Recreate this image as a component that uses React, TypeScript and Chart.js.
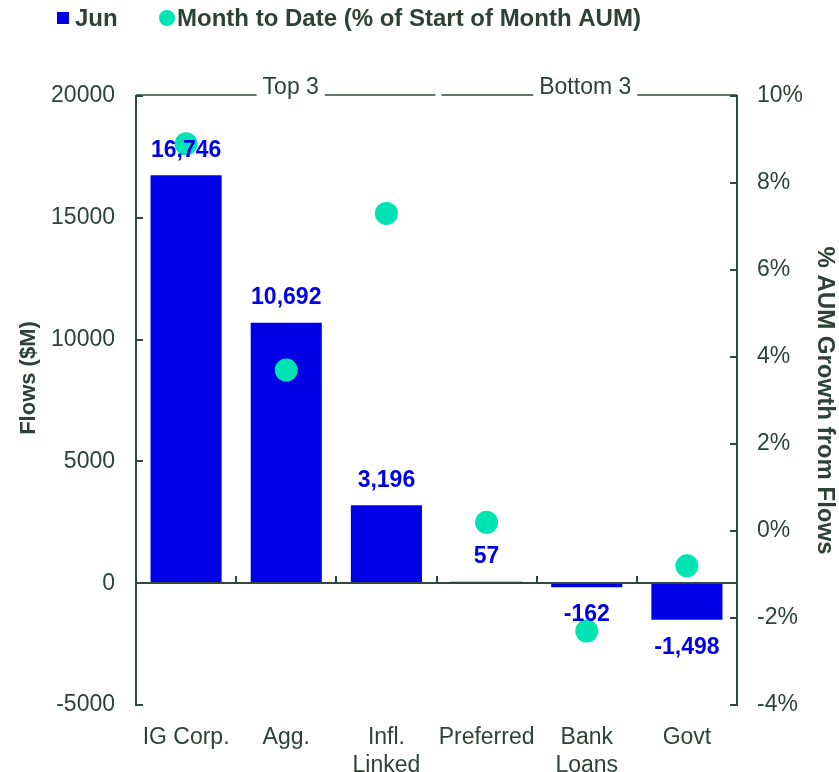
import React, { useEffect, useRef } from "react";
import { Chart, registerables } from "chart.js";

Chart.register(...registerables);

const categories: (string | string[])[] = ["IG Corp.", "Agg.", ["Infl.", "Linked"], "Preferred", ["Bank", "Loans"], "Govt"];
const flowsJun: number[] = [16746, 10692, 3196, 57, -162, -1498];
const mtdPct: number[] = [8.9, 3.7, 7.3, 0.2, -2.3, -0.8];
const groupLabels: string[] = ["Top 3", "Bottom 3"];
const legendLabels: string[] = ["Jun", "Month to Date (% of Start of Month AUM)"];
const leftTitle = "Flows ($M)";
const rightTitle = "% AUM Growth from Flows";

const FONT = "'Liberation Sans', Arial, sans-serif";
const TEXT = "#2D4236";
const AXIS = "#2F4A3A";
const BLUE = "#0000E6";
const MINT = "#00E3B2";

const decorPlugin = {
  id: "decor",
  afterDatasetsDraw(chart: any) {
    const { ctx, chartArea, scales } = chart;
    const x = scales.x;
    const y = scales.y;
    const y1 = scales.y1;
    const { left, right, top, bottom } = chartArea;
    ctx.save();
    ctx.strokeStyle = AXIS;
    ctx.lineWidth = 2;
    // zero line
    const y0 = Math.round(y.getPixelForValue(0));
    ctx.beginPath();
    ctx.moveTo(left, y0);
    ctx.lineTo(right, y0);
    ctx.stroke();
    // category boundary ticks
    for (let i = 1; i < categories.length; i++) {
      const bx = Math.round((x.getPixelForValue(i - 1) + x.getPixelForValue(i)) / 2);
      ctx.beginPath();
      ctx.moveTo(bx, y0);
      ctx.lineTo(bx, y0 - 7);
      ctx.stroke();
    }
    // inside ticks left / right
    for (let v = -5000; v <= 20000; v += 5000) {
      const py = Math.round(y.getPixelForValue(v));
      ctx.beginPath();
      ctx.moveTo(left, py);
      ctx.lineTo(left + 7, py);
      ctx.stroke();
    }
    for (let v = -4; v <= 10; v += 2) {
      const py = Math.round(y1.getPixelForValue(v));
      ctx.beginPath();
      ctx.moveTo(right, py);
      ctx.lineTo(right - 7, py);
      ctx.stroke();
    }
    // group brackets
    ctx.font = `23px ${FONT}`;
    ctx.fillStyle = TEXT;
    ctx.textAlign = "center";
    ctx.textBaseline = "alphabetic";
    const mid = (x.getPixelForValue(2) + x.getPixelForValue(3)) / 2;
    const groups = [
      [left, mid - 1, 5],
      [mid + 5, right, -4],
    ];
    const ly = top - 1;
    groups.forEach(([a, b, shift], gi) => {
      const label = groupLabels[gi];
      const w = ctx.measureText(label).width;
      const cx = (a + b) / 2 + shift;
      ctx.fillText(label, cx, ly - 1);
      ctx.lineWidth = 1.5;
      ctx.beginPath();
      ctx.moveTo(a, ly);
      ctx.lineTo(cx - w / 2 - 6, ly);
      ctx.moveTo(cx + w / 2 + 6, ly);
      ctx.lineTo(b, ly);
      ctx.stroke();
    });
    // data labels
    const meta = chart.getDatasetMeta(0);
    ctx.font = `bold 23px ${FONT}`;
    ctx.fillStyle = BLUE;
    ctx.textBaseline = "middle";
    meta.data.forEach((bar: any, i: number) => {
      const v = flowsJun[i];
      const ty = v >= 0 ? bar.y - 25 : bar.y + 28;
      ctx.fillText(v.toLocaleString("en-US"), bar.x, ty);
    });
    // left title
    ctx.save();
    ctx.translate(29, 378);
    ctx.rotate(-Math.PI / 2);
    ctx.font = `bold 22px ${FONT}`;
    ctx.fillStyle = TEXT;
    ctx.textAlign = "center";
    ctx.textBaseline = "middle";
    ctx.fillText(leftTitle, 0, 0);
    ctx.restore();
    // legend
    const legY = 18;
    ctx.fillStyle = BLUE;
    ctx.fillRect(57, legY - 6, 12, 12);
    ctx.font = `bold 24px ${FONT}`;
    ctx.fillStyle = TEXT;
    ctx.textAlign = "left";
    ctx.textBaseline = "middle";
    ctx.fillText(legendLabels[0], 75, legY + 1);
    ctx.fillStyle = MINT;
    ctx.beginPath();
    ctx.arc(167, legY, 8, 0, Math.PI * 2);
    ctx.fill();
    ctx.fillStyle = TEXT;
    ctx.fillText(legendLabels[1], 177, legY + 1);
    ctx.restore();
  },
};

export default function App() {
  const ref = useRef<HTMLCanvasElement | null>(null);
  useEffect(() => {
    if (!ref.current) return;
    const chart = new Chart(ref.current, {
      type: "bar",
      data: {
        labels: categories as any,
        datasets: [
          {
            type: "bar",
            label: legendLabels[0],
            data: flowsJun,
            backgroundColor: BLUE,
            borderWidth: 0,
            barPercentage: 0.71,
            categoryPercentage: 1,
            yAxisID: "y",
            order: 2,
          },
          {
            type: "line",
            label: legendLabels[1],
            data: mtdPct,
            showLine: false,
            pointRadius: 11.5,
            pointHoverRadius: 11.5,
            pointBackgroundColor: MINT,
            pointBorderWidth: 0,
            borderColor: MINT,
            backgroundColor: MINT,
            yAxisID: "y1",
            order: 1,
          } as any,
        ],
      },
      options: {
        responsive: false,
        animation: false,
        devicePixelRatio: 1,
        layout: { padding: { top: 96, left: 0, right: 0, bottom: 0 } },
        plugins: { legend: { display: false }, tooltip: { enabled: false } },
        scales: {
          x: {
            grid: { display: false },
            border: { display: false },
            ticks: {
              color: TEXT,
              font: { family: FONT, size: 23 },
              padding: 11,
              maxRotation: 0,
              autoSkip: false,
            },
            afterFit: (s: any) => {
              s.height = 67;
            },
          },
          y: {
            position: "left",
            min: -5000,
            max: 20000,
            grid: { display: false, drawTicks: false },
            border: { display: true, color: AXIS, width: 2 },
            ticks: {
              stepSize: 5000,
              color: TEXT,
              font: { family: FONT, size: 23 },
              padding: 21,
              callback: (v: any) => String(v),
            },
            afterFit: (s: any) => {
              s.width = 136;
            },
          },
          y1: {
            position: "right",
            min: -4,
            max: 10,
            grid: { display: false, drawTicks: false },
            border: { display: true, color: AXIS, width: 2 },
            ticks: {
              stepSize: 2,
              color: TEXT,
              font: { family: FONT, size: 23 },
              padding: 20,
              callback: (v: any) => `${v}%`,
            },
            title: {
              display: true,
              text: rightTitle,
              color: TEXT,
              font: { family: FONT, size: 24, weight: "bold" },
              padding: { top: 0, bottom: 0 },
            },
            afterFit: (s: any) => {
              s.width = 102;
            },
          },
        },
      },
      plugins: [decorPlugin],
    });
    return () => chart.destroy();
  }, []);
  return (
    <div style={{ position: "absolute", left: 0, top: 0, width: 839, height: 772 }}>
      <canvas ref={ref} width={839} height={772} style={{ width: 839, height: 772, display: "block" }} />
    </div>
  );
}
